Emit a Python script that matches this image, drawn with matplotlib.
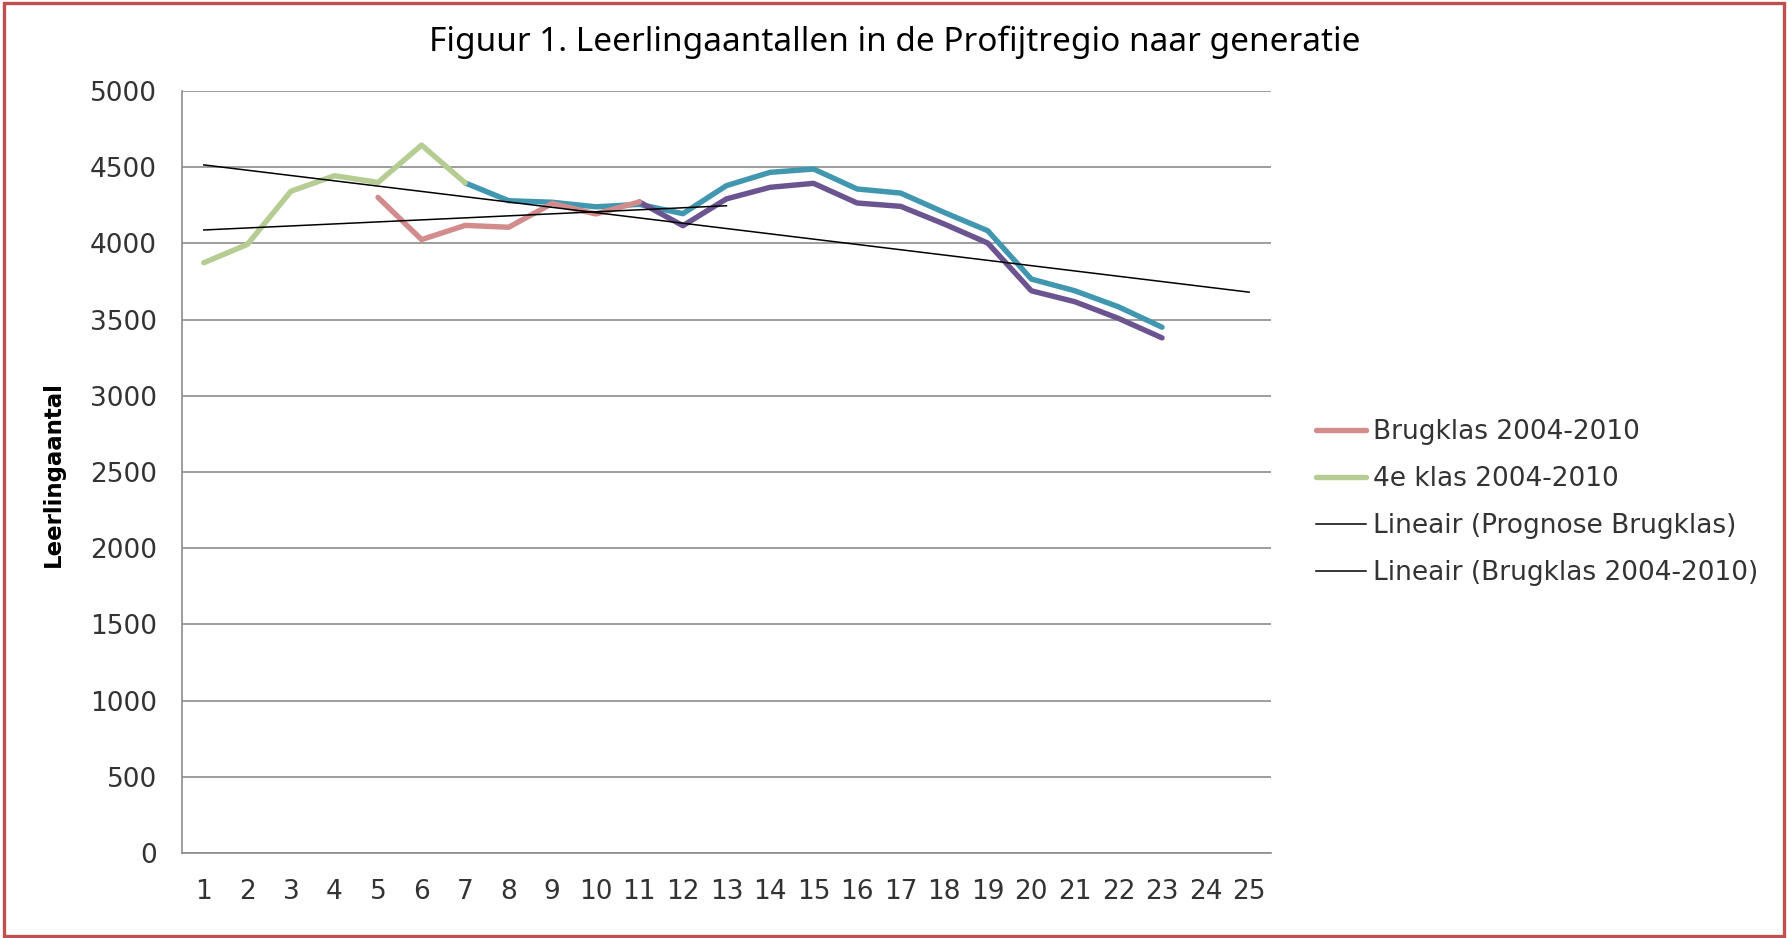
import matplotlib.pyplot as plt
from matplotlib.patches import Rectangle

# generations on the x axis
generaties = list(range(1, 26))

# Brugklas 2004-2010 (generations 5..11)
brugklas_x = [5, 6, 7, 8, 9, 10, 11]
brugklas = [4302, 4025, 4118, 4106, 4262, 4193, 4272]

# 4e klas 2004-2010 (generations 1..7)
vierde_x = [1, 2, 3, 4, 5, 6, 7]
vierde = [3873, 3993, 4342, 4444, 4400, 4645, 4397]

# prognose 4e klas (teal, no legend entry)
prog4_x = list(range(7, 24))
prog4 = [4397, 4280, 4270, 4240, 4256, 4195, 4379, 4466, 4488, 4357,
         4330, 4203, 4083, 3766, 3689, 3584, 3450]

# prognose brugklas (purple, no legend entry)
progb_x = list(range(11, 24))
progb = [4272, 4116, 4292, 4368, 4394, 4265, 4243, 4127, 4002, 3689,
         3617, 3508, 3380]

# linear trend lines, read as start/end values
trend_prog_x = [1, 25]
trend_prog = [4515, 3680]
trend_brug_x = [1, 13]
trend_brug = [4088, 4247]

y_ticks = list(range(0, 5001, 500))

fig = plt.figure(figsize=(17.88, 9.38), dpi=100)
ax = fig.add_axes([0.1018, 0.0906, 0.609, 0.8124])

lw = 3.9
ax.plot(prog4_x, prog4, color='#4197B0', lw=lw, solid_capstyle='round',
        label='_nolegend_')
ax.plot(progb_x, progb, color='#6C5490', lw=lw, solid_capstyle='round',
        label='_nolegend_')
ax.plot(brugklas_x, brugklas, color='#D28C8C', lw=lw, solid_capstyle='round',
        label='Brugklas 2004-2010')
ax.plot(vierde_x, vierde, color='#B5CC92', lw=lw, solid_capstyle='round',
        label='4e klas 2004-2010')
ax.plot(trend_prog_x, trend_prog, color='black', lw=1.1,
        label='Lineair (Prognose Brugklas)')
ax.plot(trend_brug_x, trend_brug, color='black', lw=1.1,
        label='Lineair (Brugklas 2004-2010)')

ax.set_xlim(0.5, 25.5)
ax.set_ylim(0, 5000)
ax.set_xticks(generaties)
ax.set_yticks(y_ticks)
ax.grid(axis='y', color='#8c8c8c', lw=1.2)
ax.set_axisbelow(True)

for s in ['top', 'right']:
    ax.spines[s].set_visible(False)
for s in ['left', 'bottom']:
    ax.spines[s].set_color('#8c8c8c')
    ax.spines[s].set_linewidth(1.2)

ax.tick_params(axis='both', length=0, labelsize=19, labelcolor='#333333')
ax.tick_params(axis='y', pad=18)
ax.tick_params(axis='x', pad=19)

fig.text(0.5006, 0.955, 'Figuur 1. Leerlingaantallen in de Profijtregio naar generatie',
         ha='center', va='center', fontsize=24, family='Noto Sans')
fig.text(0.030, 0.495, 'Leerlingaantal', rotation=90, ha='center', va='center',
         fontsize=16.5, fontweight='bold', family='DejaVu Sans')

fig.legend(loc='center left', bbox_to_anchor=(0.7285, 0.464), frameon=False,
           fontsize=19, handlelength=1.9, handletextpad=0.27, labelspacing=0.8,
           borderpad=0, labelcolor='#333333')

fig.patches.append(Rectangle((0.002, 0.002), 0.996, 0.995, transform=fig.transFigure,
                             fill=False, edgecolor='#C0504D', lw=2.4))

fig.savefig('out.png', dpi=100)
